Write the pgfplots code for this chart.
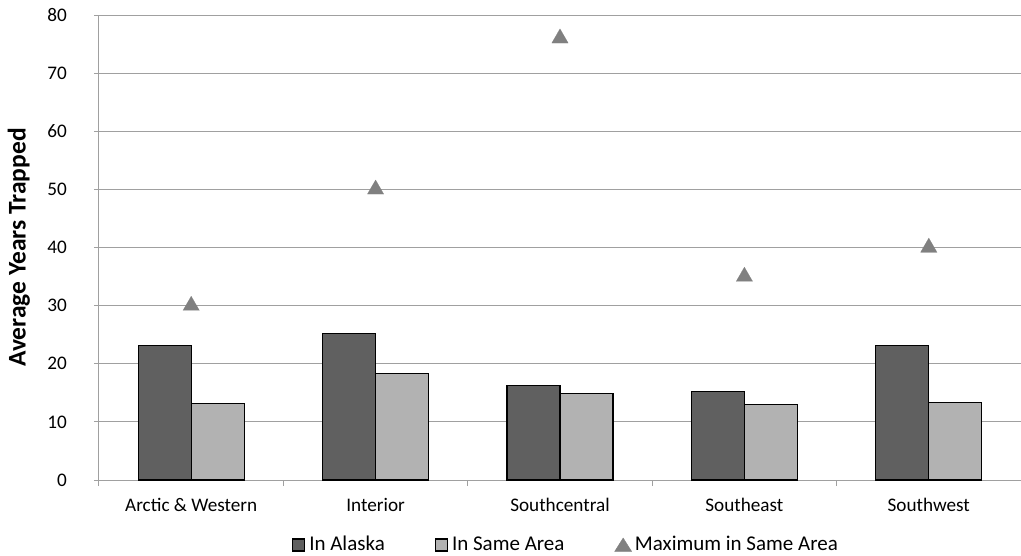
\documentclass[border=0pt]{standalone}
\usepackage{fontspec}
\setmainfont{Carlito}
\usepackage{pgfplots}
\pgfplotsset{compat=1.18}
\definecolor{darkbar}{HTML}{606060}
\definecolor{lightbar}{HTML}{B2B2B2}
\definecolor{trimark}{HTML}{808080}
\definecolor{gridc}{HTML}{A0A0A0}
\definecolor{axisc}{HTML}{A0A0A0}
\begin{document}
\fontsize{19.5bp}{23bp}\selectfont
\begin{tikzpicture}
\useasboundingbox (-99bp,-76bp) rectangle (922bp,480bp);
\begin{axis}[
  at={(0,0)}, anchor=south west,
  scale only axis, width=922bp, height=465bp,
  xmin=-0.5, xmax=4.5, ymin=0, ymax=80,
  ytick={0,10,...,80},
  xtick={0,...,4},
  xticklabels={Arctic \& Western, Interior, Southcentral, Southeast, Southwest},
  minor xtick={-0.5,0.5,...,4.5},
  major x tick style={draw=none},
  minor tick length=6bp,
  major tick length=5bp,
  ymajorgrids,
  grid style={draw=gridc, line width=0.9bp},
  axis x line*=bottom, axis y line*=left,
  axis line style={draw=axisc, line width=1bp, -},
  tick style={draw=axisc, line width=1bp},
  tick align=outside,
  /pgf/number format/assume math mode=true,
  tick label style={font=\fontsize{19.2bp}{23bp}\selectfont},
  yticklabel style={anchor=east, xshift=-27bp, inner sep=0pt},
  xticklabel style={anchor=north, yshift=-13bp, inner sep=0pt},
  ylabel={\textbf{Average Years Trapped}},
  ylabel style={font=\fontsize{25.5bp}{30bp}\selectfont,
    at={(axis description cs:-0.0868,0.5)}, anchor=center},
  legend columns=3,
  legend style={at={(axis description cs:0.5065,0)}, yshift=-65bp, anchor=center,
    draw=none, fill=none, font=\fontsize{21bp}{25bp}\selectfont,
    nodes={text height=1.45ex, text depth=0.2ex},
    /tikz/every even column/.append style={column sep=48bp}},
  legend cell align=left,
]
\addplot[ybar, bar width=53bp, bar shift=-26.5bp, fill=darkbar, draw=black, line width=1.2bp,
  legend image code/.code={\draw[fill=darkbar,draw=black,line width=1.2bp] (0bp,-6bp) rectangle (12bp,6bp); \path (14bp,0bp);}]
  coordinates {(0,23.1) (1,25.2) (2,16.2) (3,15.2) (4,23.1)};
\addlegendentry{In Alaska}
\addplot[ybar, bar width=53bp, bar shift=26.5bp, fill=lightbar, draw=black, line width=1.2bp,
  legend image code/.code={\draw[fill=lightbar,draw=black,line width=1.2bp] (0bp,-6bp) rectangle (12bp,6bp); \path (14bp,0bp);}]
  coordinates {(0,13.2) (1,18.3) (2,14.9) (3,13.0) (4,13.3)};
\addlegendentry{In Same Area}
\addplot[only marks, color=trimark, mark=triangle*, mark size=9.5bp, mark options={fill=trimark, draw=trimark, line width=0.1bp},
  legend image code/.code={\fill[trimark] (0bp,-6.5bp) -- (17bp,-6.5bp) -- (8.5bp,7bp) -- cycle; \path (18bp,0bp);}]
  coordinates {(0,30) (1,50) (2,76) (3,35) (4,40)};
\addlegendentry{Maximum in Same Area}
\end{axis}
\end{tikzpicture}
\end{document}
